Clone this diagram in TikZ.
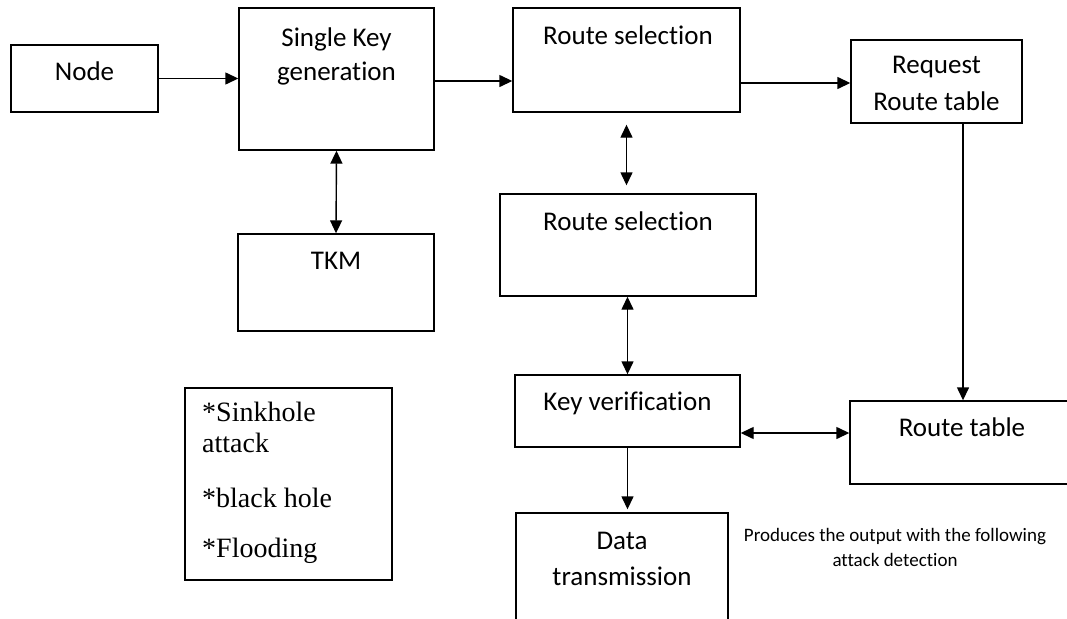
\documentclass[tikz,border=0pt]{standalone}
\usepackage{fontspec}
\setmainfont[Ligatures=NoCommon]{Carlito}
\newfontfamily\attackfont{Liberation Serif}
\usetikzlibrary{arrows.meta}

\begin{document}
\begin{tikzpicture}[x=1pt,y=-1pt,
  box/.style={draw, line width=1.4pt, inner sep=0pt},
  lbl/.style={anchor=base, inner sep=0pt, font=\fontsize{27}{32}\selectfont},
  note/.style={anchor=base, inner sep=0pt, font=\fontsize{19}{22}\selectfont},
  atxt/.style={anchor=base west, inner sep=0pt, font=\attackfont\fontsize{28}{33}\selectfont},
  arr/.style={line width=1.4pt, -{Triangle[length=13pt,width=12pt]}},
  dbl/.style={line width=1.4pt, {Triangle[length=13pt,width=12pt]}-{Triangle[length=13pt,width=12pt]}}]
\useasboundingbox (0,0) rectangle (1067,618);

% blocks
\node[box, minimum width=147pt, minimum height=67pt]  (nd)  at (84.5,78.5) {};
\node[box, minimum width=195pt, minimum height=142pt] (skg) at (336.5,79) {};
\node[box, minimum width=227pt, minimum height=104pt] (rs1) at (626.5,60) {};
\node[box, minimum width=171pt, minimum height=83pt]  (req) at (936.5,81.5) {};
\node[box, minimum width=196pt, minimum height=97pt]  (tkm) at (336,282.5) {};
\node[box, minimum width=256pt, minimum height=102pt] (rs2) at (628,245) {};
\node[box, minimum width=225pt, minimum height=72pt]  (kv)  at (627.5,411) {};
\node[box, minimum width=218pt, minimum height=83pt]  (rt)  at (959,442.5) {};
\node[box, minimum width=212pt, minimum height=112pt] (dt)  at (622,569) {};
\node[box, minimum width=207pt, minimum height=192pt] (atk) at (288.5,484) {};

% block labels
\node[lbl] (tnd)  at (84.5,81)  {Node};
\node[lbl] (tskg1) at (336.5,46) {Single Key};
\node[lbl] (tskg2) at (336.5,81) {generation};
\node[lbl] (trs1) at (628,45) {Route selection};
\node[lbl] (treq1) at (936.5,74) {Request};
\node[lbl] (treq2) at (936.5,110) {Route table};
\node[lbl] (ttkm) at (336,269) {TKM};
\node[lbl] (trs2) at (628,230) {Route selection};
\node[lbl] (tkv)  at (627.5,410) {Key verification};
\node[lbl] (trt)  at (962,436) {Route table};
\node[lbl] (tdt1) at (622,549) {Data};
\node[lbl] (tdt2) at (622,585) {transmission};

% attack list
\node[atxt] (a1) at (202,421) {*Sinkhole};
\node[atxt] (a2) at (202,452) {attack};
\node[atxt] (a3) at (202,507) {*black hole};
\node[atxt] (a4) at (202,557) {*Flooding};

% remark
\node[note] (n1) at (895,541) {Produces the output with the following};
\node[note] (n2) at (895,566) {attack detection};

% connector end points
\coordinate (skgout) at ([yshift=-2pt]skg.east);
\coordinate (reqin)  at ([yshift=-1.5pt]req.west);
\coordinate (reqout) at ([xshift=26.5pt]req.south);
\coordinate (kvside) at ([yshift=-22pt]kv.east);

% connectors
\draw[arr] (nd.east) -- (skg.west |- nd.east);
\draw[arr] (skgout) -- (rs1.west |- skgout);
\draw[arr] (rs1.east |- reqin) -- (reqin);
\draw[dbl] (skg.south) -- (tkm.north);
\draw[dbl, shorten <=12pt, shorten >=8pt] (rs1.south) -- (rs1.south |- rs2.north);
\draw[dbl] (rs2.south -| kv.north) -- (kv.north);
\draw[arr] (reqout) -- (reqout |- rt.north);
\draw[dbl] (kvside) -- (rt.west |- kvside);
\draw[arr, shorten >=3pt] (kv.south) -- (kv.south |- dt.north);
\end{tikzpicture}
\end{document}
